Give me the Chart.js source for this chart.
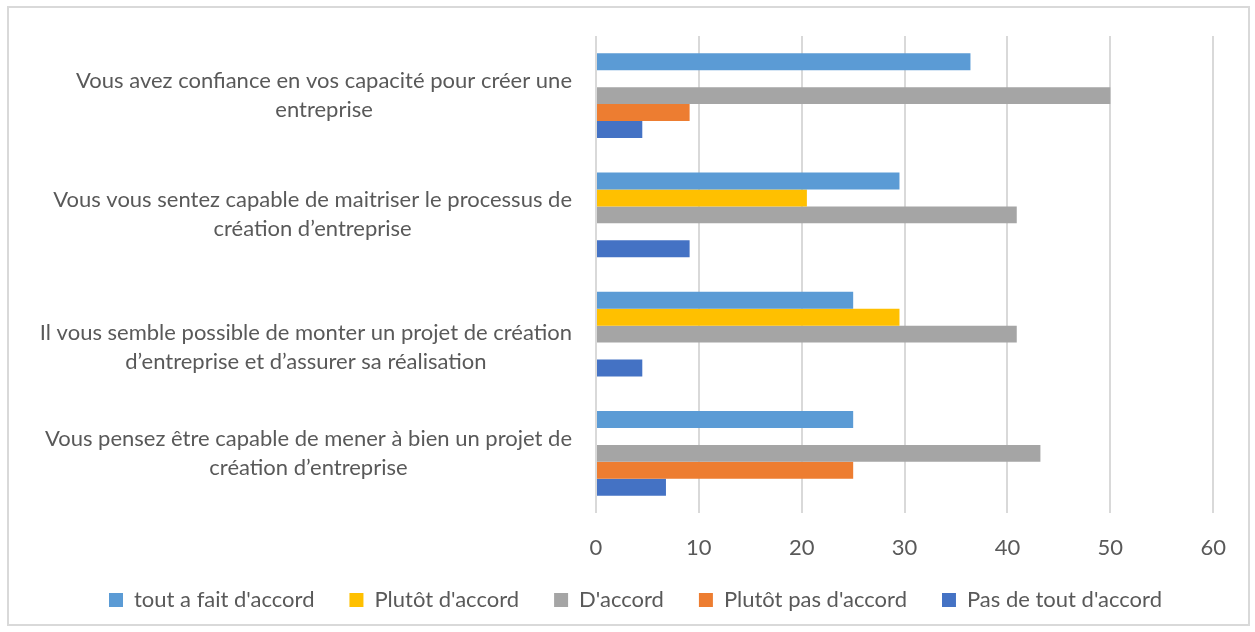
<!DOCTYPE html>
<html>
<head>
<meta charset="utf-8">
<script src="https://cdn.jsdelivr.net/npm/chart.js@4"></script>
<style>
  body { margin: 0; background: #fff; }
  #box { position: absolute; left: 7px; top: 6px; width: 1239px; height: 616px; border: 2px solid #d9d9d9; }
</style>
</head>
<body>
<div id="box"><canvas id="myChart" width="1239" height="616"></canvas></div>
<script>
// categories, top to bottom
var questions = [
  ['Vous avez confiance en vos capacité pour créer une', 'entreprise'],
  ['Vous vous sentez capable de maitriser le processus de', 'création d\u2019entreprise'],
  ['Il vous semble possible de monter un projet de création', 'd\u2019entreprise et d\u2019assurer sa réalisation'],
  ['Vous pensez être capable de mener à bien un projet de', 'création d\u2019entreprise']
]

var series = ["tout a fait d'accord", "Plutôt d'accord", "D'accord", "Plutôt pas d'accord", "Pas de tout d'accord"]

var toutAFait = [36.4, 29.5, 25, 25]
var plutotDaccord = [0, 20.5, 29.5, 0]
var daccord = [50, 40.9, 40.9, 43.2]
var plutotPas = [9.1, 0, 0, 25]
var pasDeTout = [4.5, 9.1, 4.5, 6.8]

var xTicks = [0, 10, 20, 30, 40, 50, 60]

var couleurs = ['#5B9BD5', '#FFC000', '#A5A5A5', '#ED7D31', '#4472C4']
var valeurs = [toutAFait, plutotDaccord, daccord, plutotPas, pasDeTout]

var police = 'Lato, "Open Sans", sans-serif'
var gris = '#595959'

// the third label sits a little lower in the original
var decalage = [0, 0, 13, 0]

var labelsPlugin = {
  id: 'labelsQuestions',
  beforeInit: function(chart) {
    // pull the legend closer to the bottom edge
    var fit = chart.legend.fit
    chart.legend.fit = function() {
      fit.call(this)
      this.height = 70
    }
  },
  afterLayout: function(chart) {
    // don't let the short x axis box clip its labels, and nudge the legend right
    chart.scales.x.bottom += 40
    chart.legend.left += 23
    chart.legend.right += 23
  },
  afterDraw: function(chart) {
    // two-line category labels, centred on each other, right edge near the axis
    var ctx = chart.ctx
    var y = chart.scales.y
    ctx.save()
    ctx.font = '22px ' + police
    ctx.fillStyle = gris
    ctx.textAlign = 'center'
    ctx.textBaseline = 'middle'
    var droite = 563
    questions.forEach(function(lignes, i) {
      var cy = y.getPixelForTick(i) + decalage[i]
      var w = Math.max.apply(null, lignes.map(function(l) { return ctx.measureText(l).width }))
      var cx = droite - w / 2
      var lh = 29
      lignes.forEach(function(l, j) {
        ctx.fillText(l, cx, cy + (j - (lignes.length - 1) / 2) * lh)
      })
    })
    ctx.restore()
  }
}

var ctx = document.getElementById('myChart').getContext('2d')
var chart = new Chart(ctx, {
  type: 'bar',
  data: {
    labels: questions,
    datasets: series.map(function(nom, k) {
      return {
        label: nom,
        data: valeurs[k],
        backgroundColor: couleurs[k],
        borderWidth: 0
      }
    })
  },
  options: {
    indexAxis: 'y',
    responsive: false,
    animation: false,
    categoryPercentage: 0.71,
    barPercentage: 1,
    layout: { padding: { top: 28, right: 32, bottom: 0, left: 0 } },
    scales: {
      x: {
        min: 0,
        max: 60,
        afterBuildTicks: function(scale) {
          scale.ticks = xTicks.map(function(v) { return { value: v } })
        },
        afterFit: function(scale) { scale.height = 41 },
        grid: { color: '#d9d9d9', lineWidth: 2, drawTicks: false },
        border: { display: false },
        ticks: { color: gris, font: { family: police, size: 22 }, padding: 22 }
      },
      y: {
        grid: { display: false },
        border: { display: false },
        ticks: { display: false },
        afterFit: function(scale) { scale.width = 587 }
      }
    },
    plugins: {
      legend: {
        position: 'bottom',
        labels: {
          color: gris,
          font: { family: police, size: 22 },
          boxWidth: 14,
          boxHeight: 14,
          padding: 35
        }
      },
      tooltip: { enabled: false }
    }
  },
  plugins: [labelsPlugin]
})
</script>
</body>
</html>
